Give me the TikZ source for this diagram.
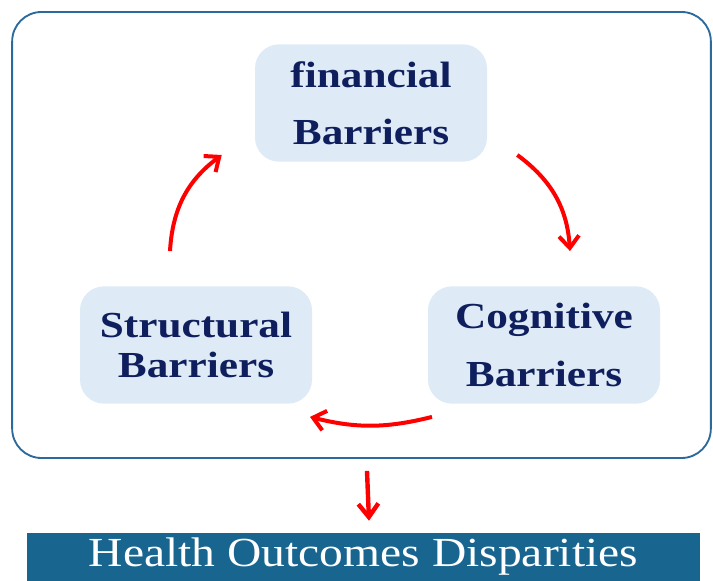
\documentclass[tikz,border=0pt]{standalone}
\usepackage{fontspec}
\setmainfont{Liberation Serif}
\newfontfamily\widefont{Liberation Serif}[FakeStretch=1.18]
\newfontfamily\barfont{Liberation Serif}[FakeStretch=1.15]
\usetikzlibrary{arrows.meta}
\definecolor{boxfill}{HTML}{DEEBF6}
\definecolor{navytext}{HTML}{0F1F5E}
\definecolor{framecol}{HTML}{2C6A9B}
\definecolor{barcol}{HTML}{186590}
\tikzstyle{barrier}=[rectangle,rounded corners=18pt,fill=boxfill,text=navytext,font=\widefont\bfseries\fontsize{27.5}{30}\selectfont,minimum width=174pt,minimum height=88pt,align=center,inner sep=0pt]
\tikzstyle{frame}=[rectangle,rounded corners=22pt,draw=framecol,line width=1.4pt,minimum width=524pt,minimum height=334.5pt]
\tikzstyle{outcome}=[rectangle,fill=barcol,text=white,font=\barfont\fontsize{31}{34}\selectfont,minimum width=504.75pt,minimum height=36pt,inner sep=0pt]
\tikzstyle{cyc}=[draw=red,line width=3pt,-{Straight Barb[length=9pt,width=15pt]}]
\tikzstyle{down}=[draw=red,line width=3.3pt,-{Straight Barb[length=10pt,width=15pt]}]

\begin{document}
\begin{tikzpicture}[x=0.75pt,y=-0.75pt]
	\useasboundingbox (0,0) rectangle (713,581);
	% outer frame and the three barriers
	\node[frame] (frame) at (361.5,235) {};
	\node[barrier] (fin) at (371,103) {financial\\[13pt]Barriers};
	\node[barrier] (struct) at (196,345) {Structural\\Barriers};
	\node[barrier] (cog) at (544,345) {Cognitive\\[13pt]Barriers};
	\node[outcome] (bar) at (363.5,557) {Health Outcomes Disparities};
	% cycle arrows
	\draw[cyc] ([shift={(-26,-35)}]struct.north) to[bend left=25] ([shift={(-33,52)}]fin.west);
	\draw[cyc] ([shift={(30,52)}]fin.east) to[bend left=25] ([shift={(26,-35)}]cog.north);
	\draw[cyc] ([shift={(-112,13)}]cog.south) to[bend left=14] ([shift={(114,13)}]struct.south);
	\draw[down] ([shift={(5.5,12)}]frame.south) -- ([shift={(5.5,-12)}]bar.north);
\end{tikzpicture}
\end{document}
